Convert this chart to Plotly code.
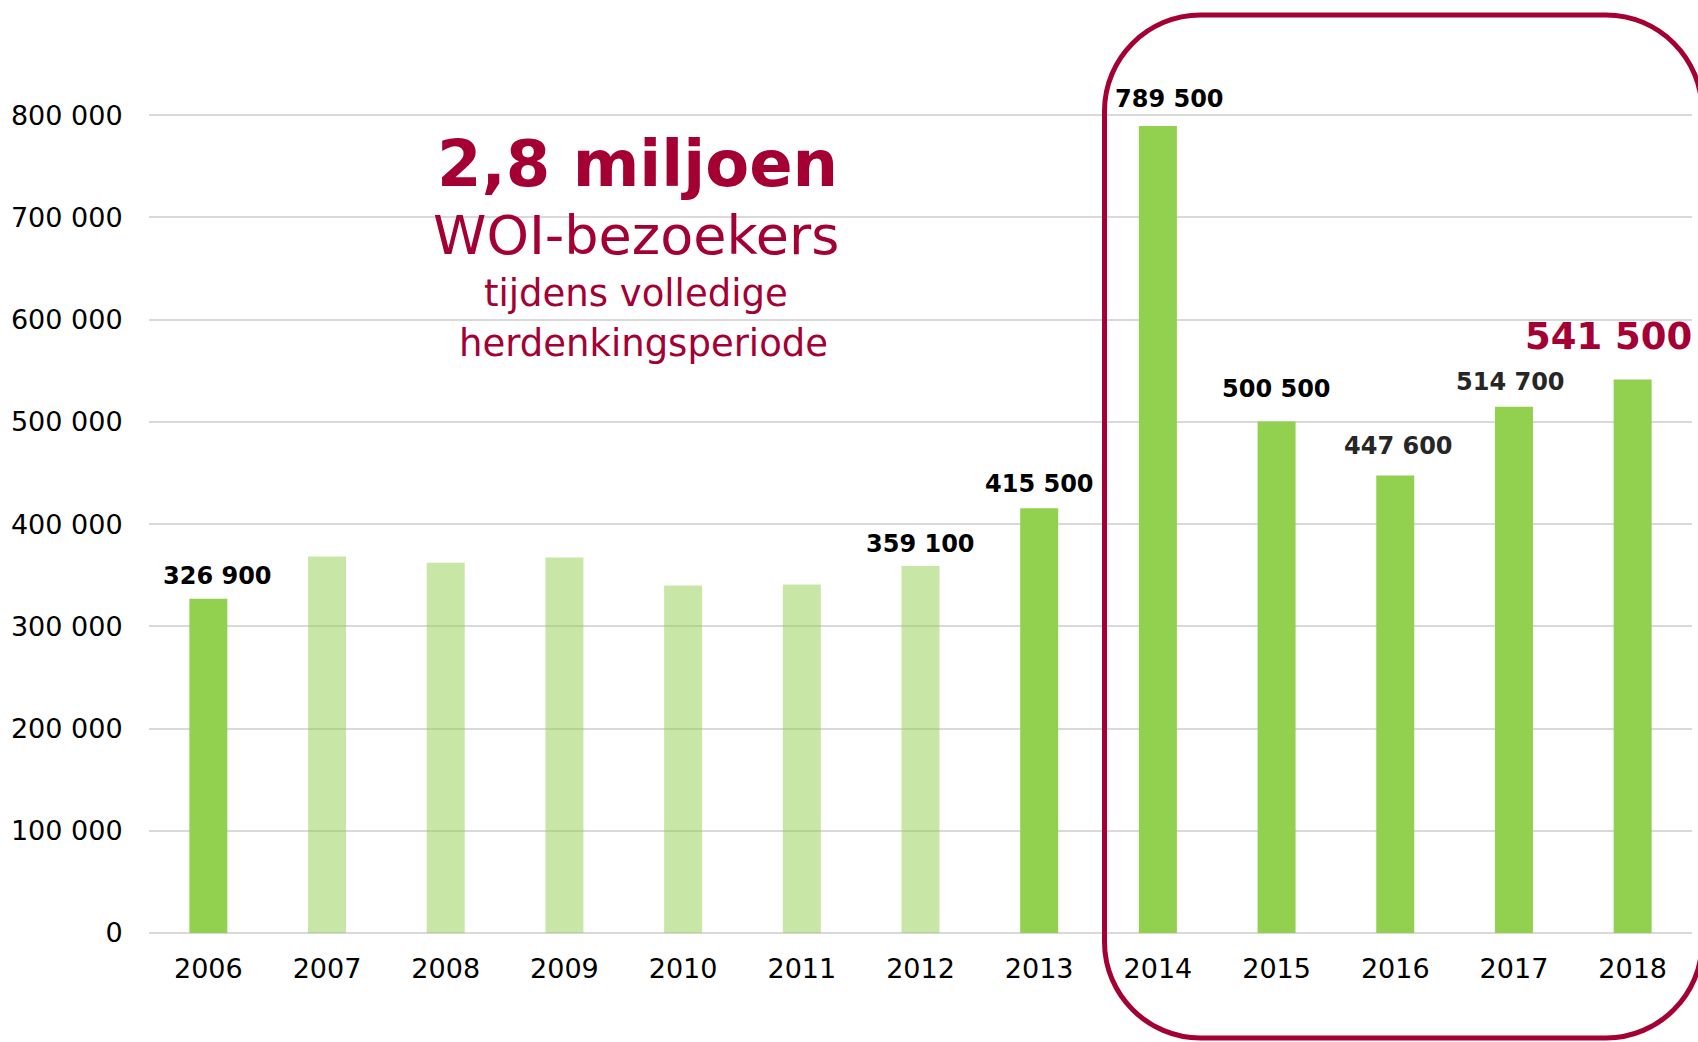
import plotly.graph_objects as go

# ---- data ----
years = ["2006", "2007", "2008", "2009", "2010", "2011", "2012",
         "2013", "2014", "2015", "2016", "2017", "2018"]
visitors = [326900, 368400, 362100, 367400, 339900, 340900, 359100,
            415500, 789500, 500500, 447600, 514700, 541500]
highlight = [True, False, False, False, False, False, False,
             True, True, True, True, True, True]
label_years = ["2006", "2012", "2013", "2014", "2015", "2016", "2017", "2018"]
y_tickvals = [0, 100000, 200000, 300000, 400000, 500000, 600000, 700000, 800000]
y_ticktext = ["0", "100 000", "200 000", "300 000", "400 000",
              "500 000", "600 000", "700 000", "800 000"]
headline = ["2,8 miljoen", "WOI-bezoekers", "tijdens volledige", "herdenkingsperiode"]

# ---- styling ----
W, H = 1698, 1042
DARK = "#92D050"
LIGHT = "rgba(146,208,80,0.5)"
RED = "#A50034"
FONT = "Verdana, DejaVu Sans, sans-serif"

ML, MR, MT, MB = 149, 6, 13, 109
plot_w = W - ML - MR
plot_h = H - MT - MB


def px(x):
    return (x - ML) / plot_w


def py(y):
    return (H - MB - y) / plot_h


def fmt(v):
    return f"{v:,}".replace(",", " ")


colors = [DARK if h else LIGHT for h in highlight]

fig = go.Figure()
fig.add_trace(go.Bar(
    x=years, y=visitors, marker=dict(color=colors, line=dict(width=0)),
    hoverinfo="skip",
))

# value labels (offsets in pixels)
label_style = {
    "2006": dict(xs=9, ys=23, size=24, color="#000000"),
    "2012": dict(xs=0, ys=22, size=24, color="#000000"),
    "2013": dict(xs=0, ys=24, size=24, color="#000000"),
    "2014": dict(xs=12, ys=27, size=24, color="#000000"),
    "2015": dict(xs=0, ys=32, size=24, color="#000000"),
    "2016": dict(xs=3, ys=29, size=24, color="#262626"),
    "2017": dict(xs=-3, ys=25, size=24, color="#262626"),
    "2018": dict(xs=-24, ys=43, size=37, color=RED),
}
for yr in label_years:
    i = years.index(yr)
    v = visitors[i]
    st = label_style[yr]
    fig.add_annotation(
        x=i, y=v, xref="x", yref="y", text=f"<b>{fmt(v)}</b>",
        showarrow=False, xanchor="center", yanchor="middle",
        xshift=st["xs"], yshift=st["ys"],
        font=dict(family=FONT, size=st["size"], color=st["color"]),
    )

# headline text block
head_pos = [(637, 164, 64, True), (636, 235, 54, False),
            (636, 294, 37, False), (643, 343, 37, False)]
for txt, (hx, hy, size, bold) in zip(headline, head_pos):
    fig.add_annotation(
        x=px(hx), y=py(hy), xref="paper", yref="paper",
        text=f"<b>{txt}</b>" if bold else txt, showarrow=False,
        xanchor="center", yanchor="middle",
        font=dict(family=FONT, size=size, color=RED),
    )

# rounded rectangle around 2014-2018
L, R, T, B, r = 1104.5, 1702, 15, 1038, 96
k = 0.45  # cubic handle factor
pts = [
    ("M", [(L + r, T)]),
    ("L", [(R - r, T)]),
    ("C", [(R - r * k, T), (R, T + r * k), (R, T + r)]),
    ("L", [(R, B - r)]),
    ("C", [(R, B - r * k), (R - r * k, B), (R - r, B)]),
    ("L", [(L + r, B)]),
    ("C", [(L + r * k, B), (L, B - r * k), (L, B - r)]),
    ("L", [(L, T + r)]),
    ("C", [(L, T + r * k), (L + r * k, T), (L + r, T)]),
]
path = ""
for cmd, ps in pts:
    path += cmd + " ".join(f"{px(a):.5f},{py(b):.5f}" for a, b in ps) + " "
path += "Z"
fig.add_shape(type="path", path=path, xref="paper", yref="paper",
              line=dict(color=RED, width=5), fillcolor="rgba(0,0,0,0)")

fig.update_layout(
    width=W, height=H,
    margin=dict(l=ML, r=MR, t=MT, b=MB, pad=0, autoexpand=False),
    paper_bgcolor="white", plot_bgcolor="white",
    bargap=0.68, showlegend=False,
    font=dict(family=FONT, size=26, color="#000000"),
)
fig.update_xaxes(
    type="category", categoryorder="array", categoryarray=years,
    range=[-0.5, len(years) - 0.5], autorange=False, automargin=False,
    showgrid=False, showline=False, zeroline=False,
    ticks="outside", ticklen=12, tickcolor="rgba(0,0,0,0)",
    tickfont=dict(family=FONT, size=27, color="#000000"),
)
fig.update_yaxes(
    range=[0, 900000], autorange=False, tickvals=y_tickvals, ticktext=y_ticktext,
    automargin=False,
    showgrid=True, gridcolor="#D9D9D9", gridwidth=2,
    zeroline=True, zerolinecolor="#D9D9D9", zerolinewidth=2,
    showline=False, ticks="outside", ticklen=20, tickcolor="rgba(0,0,0,0)",
    tickfont=dict(family=FONT, size=27, color="#000000"),
)

fig.write_html(
    "out.html",
    config={"displayModeBar": False},
    post_script="document.body.style.margin='0';document.body.style.overflow='hidden';",
)
